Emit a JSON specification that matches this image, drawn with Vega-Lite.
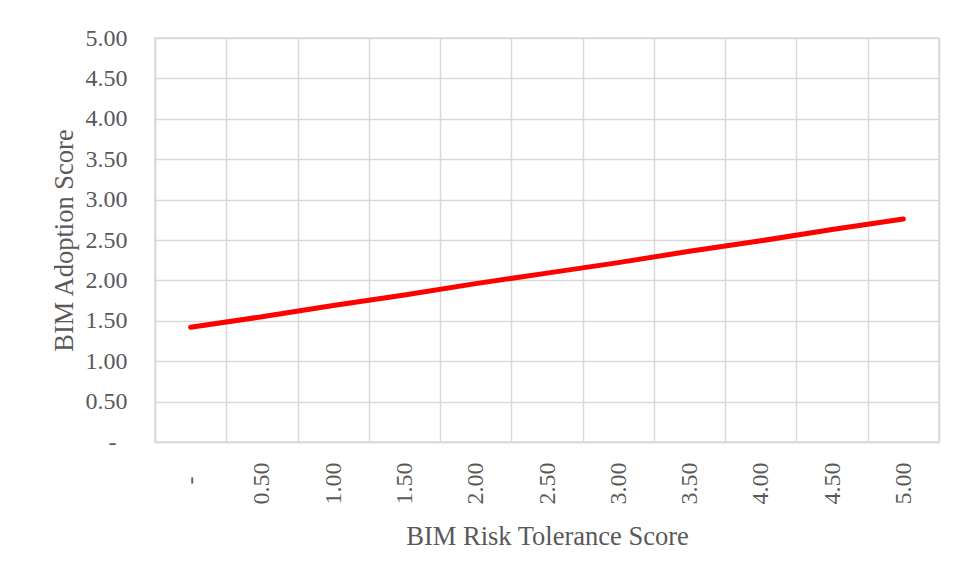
{
  "$schema": "https://vega.github.io/schema/vega-lite/v6.json",
  "width": 784,
  "height": 404,
  "autosize": {"type": "none"},
  "padding": {"left": 155, "top": 38, "right": 20, "bottom": 137},
  "background": "white",
  "data": {
    "values": [
      {"risk": 0.0, "adoption": 1.42},
      {"risk": 0.5, "adoption": 1.55},
      {"risk": 1.0, "adoption": 1.69},
      {"risk": 1.5, "adoption": 1.82},
      {"risk": 2.0, "adoption": 1.96},
      {"risk": 2.5, "adoption": 2.09},
      {"risk": 3.0, "adoption": 2.22},
      {"risk": 3.5, "adoption": 2.36},
      {"risk": 4.0, "adoption": 2.49},
      {"risk": 4.5, "adoption": 2.63},
      {"risk": 5.0, "adoption": 2.76}
    ]
  },
  "mark": {"type": "line", "color": "#ff0000", "strokeWidth": 5, "strokeCap": "round"},
  "encoding": {
    "x": {
      "field": "risk",
      "type": "ordinal",
      "scale": {"paddingInner": 0, "paddingOuter": 0},
      "axis": {
        "title": "BIM Risk Tolerance Score",
        "labelAngle": 270,
        "labelAlign": "right",
        "labelBaseline": "middle",
        "labelPadding": {"condition": {"test": "datum.value == 0", "value": 34}, "value": 20},
        "labelExpr": "isValid(datum.value) ? (datum.value == 0 ? '-' : format(datum.value, '.2f')) : ''",
        "tickBand": "extent",
        "ticks": false,
        "grid": true,
        "titleBaseline": "alphabetic",
        "titleY": 102
      }
    },
    "y": {
      "field": "adoption",
      "type": "quantitative",
      "scale": {"domain": [0, 5], "nice": false},
      "axis": {
        "title": "BIM Adoption Score",
        "values": [0, 0.5, 1, 1.5, 2, 2.5, 3, 3.5, 4, 4.5, 5],
        "labelExpr": "datum.value == 0 ? '-' : format(datum.value, '.2f')",
        "labelPadding": {"condition": {"test": "datum.value == 0", "value": 39}, "value": 28},
        "ticks": false,
        "titleBaseline": "alphabetic",
        "titleX": -83,
        "titleY": 202,
        "titleAngle": 270
      }
    }
  },
  "config": {
    "font": "Liberation Serif",
    "view": {"stroke": "#d9d9d9", "strokeWidth": 1.5},
    "axis": {
      "labelFont": "Liberation Serif",
      "labelFontSize": 24,
      "labelColor": "#595959",
      "titleFont": "Liberation Serif",
      "titleFontSize": 26.5,
      "titleFontWeight": "normal",
      "titleColor": "#595959",
      "domainColor": "#d9d9d9",
      "domainWidth": 1.5,
      "gridColor": "#d9d9d9",
      "gridWidth": 1.5,
      "gridOpacity": 1,
      "labelOverlap": false
    }
  }
}
